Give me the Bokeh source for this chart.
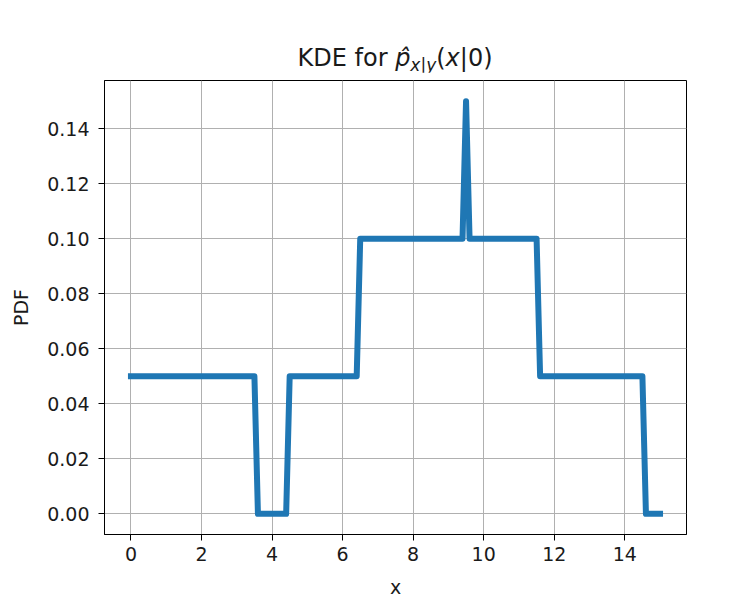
from bokeh.plotting import figure
from bokeh.models import Range1d, FixedTicker, NumeralTickFormatter, Div
from bokeh.layouts import column
from bokeh.embed import file_html
from bokeh.resources import INLINE

# data: KDE breakpoints
x_vals = [0.0, 3.5, 3.6, 4.4, 4.5, 6.4, 6.5, 9.4, 9.5, 9.6, 11.5, 11.6, 14.5, 14.6, 15.0]
pdf_vals = [0.05, 0.05, 0.0, 0.0, 0.05, 0.05, 0.10, 0.10, 0.15, 0.10, 0.10, 0.05, 0.05, 0.0, 0.0]
x_ticks = [0, 2, 4, 6, 8, 10, 12, 14]
y_ticks = [0.0, 0.02, 0.04, 0.06, 0.08, 0.10, 0.12, 0.14]

FONT = "DejaVu Sans"
X0, X1 = -0.75, 15.75
Y0, Y1 = -0.0075, 0.1575

BL, BR, BT, BB = 104, 55, 8, 62
FW, FH = 582, 458
W, H = BL + FW + BR, BT + FH + BB

p = figure(width=W, height=H, output_backend="svg", toolbar_location=None,
           x_range=Range1d(X0, X1), y_range=Range1d(Y0, Y1),
           min_border_left=BL, min_border_right=BR, min_border_top=BT, min_border_bottom=BB)
p.background_fill_color = "white"
p.border_fill_color = "white"
p.outline_line_color = "black"
p.outline_line_width = 1

p.line(x_vals, pdf_vals, line_color="#1f77b4", line_width=6, line_join="round", line_cap="square")

for ax in (p.xaxis, p.yaxis):
    ax.major_label_text_font = FONT
    ax.major_label_text_font_size = "19px"
    ax.major_label_text_color = "#1a1a1a"
    ax.axis_label_text_font = FONT
    ax.axis_label_text_font_size = "19px"
    ax.axis_label_text_font_style = "normal"
    ax.axis_label_text_color = "#1a1a1a"
    ax.axis_line_color = "black"
    ax.major_tick_line_color = "black"
    ax.major_tick_out = 6
    ax.major_tick_in = 0
    ax.minor_tick_line_color = None

p.xaxis.ticker = FixedTicker(ticks=x_ticks)
p.yaxis.ticker = FixedTicker(ticks=y_ticks)
p.yaxis.formatter = NumeralTickFormatter(format="0.00")
p.xaxis.axis_label = "x"
p.yaxis.axis_label = "PDF"
p.xaxis.major_label_standoff = 6
p.yaxis.major_label_standoff = 9
p.xaxis.axis_label_standoff = 12
p.yaxis.axis_label_standoff = 12

p.grid.grid_line_color = "#b0b0b0"
p.grid.grid_line_width = 1

title_html = (
    'KDE for <span style="font-style:italic">p\u0302</span>'
    '<span style="font-style:italic;font-size:17px;position:relative;top:5px">x|y</span>'
    '(<span style="font-style:italic">x</span>|0)'
)
title = Div(text=title_html, width=FW, height=28, margin=(44, 0, 0, BL),
            styles={"font-family": FONT, "font-size": "24px", "line-height": "28px",
                    "color": "#1a1a1a", "text-align": "center", "width": f"{FW}px",
                    "white-space": "nowrap"})

layout = column(title, p, spacing=0)
open("out.html", "w").write(file_html(layout, INLINE))
